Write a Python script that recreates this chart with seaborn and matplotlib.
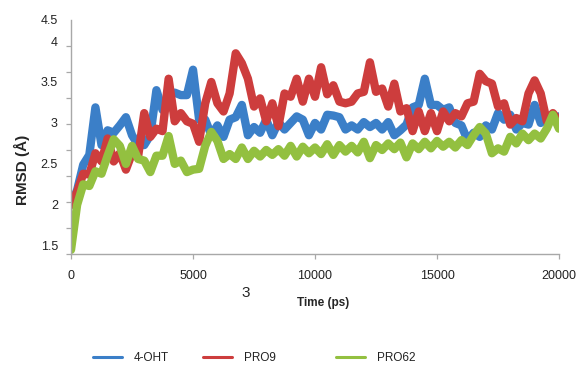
import numpy as np
import pandas as pd
import matplotlib
matplotlib.use("Agg")
import matplotlib.pyplot as plt
import seaborn as sns

# tempo da simulação (ps), um ponto a cada 250 ps
time_ps = list(range(0, 20001, 250))

# RMSD (Å)
rmsd_4oht = [2.00, 2.18, 2.49, 2.61, 3.19, 2.73, 2.91, 2.88, 2.97, 3.07,
             2.85, 2.73, 2.73, 2.85, 3.40, 3.16, 3.34, 3.37, 3.34, 3.34,
             3.65, 3.04, 3.04, 2.85, 2.97, 2.83, 3.04, 3.07, 3.22, 2.85,
             2.95, 2.88, 3.04, 2.85, 3.01, 2.92, 3.00, 3.08, 3.04, 2.85,
             3.00, 2.92, 3.10, 3.09, 3.07, 2.92, 2.97, 2.92, 3.01, 2.95,
             3.00, 2.92, 3.01, 2.85, 2.91, 2.98, 3.19, 3.22, 3.54, 3.22,
             3.22, 3.16, 3.19, 3.00, 2.97, 2.79, 2.88, 2.83, 2.97, 2.92,
             3.12, 3.04, 3.10, 2.92, 3.00, 2.98, 3.22, 3.00, 3.07, 3.04,
             3.08]
rmsd_pro9 = [2.00, 2.16, 2.38, 2.37, 2.63, 2.53, 2.81, 2.53, 2.63, 2.43,
             2.63, 2.59, 3.12, 2.83, 2.93, 2.90, 3.54, 3.02, 3.12, 3.02,
             2.99, 2.77, 3.24, 3.50, 3.24, 3.14, 3.36, 3.85, 3.73, 3.54,
             3.20, 3.30, 3.02, 3.24, 2.96, 3.36, 3.32, 3.54, 3.26, 3.54,
             3.32, 3.68, 3.35, 3.46, 3.26, 3.24, 3.26, 3.36, 3.38, 3.74,
             3.38, 3.42, 3.20, 3.48, 3.14, 3.18, 2.90, 3.14, 2.90, 3.12,
             2.90, 3.14, 3.02, 3.12, 3.08, 3.24, 3.26, 3.60, 3.51, 3.48,
             3.20, 3.24, 2.98, 3.06, 3.02, 3.36, 3.52, 3.36, 3.02, 3.12,
             3.02]
rmsd_pro62 = [1.45, 2.00, 2.25, 2.23, 2.41, 2.38, 2.60, 2.80, 2.72, 2.50,
              2.72, 2.56, 2.54, 2.40, 2.60, 2.60, 2.84, 2.50, 2.54, 2.40,
              2.43, 2.44, 2.72, 2.89, 2.78, 2.56, 2.62, 2.56, 2.70, 2.56,
              2.66, 2.59, 2.67, 2.61, 2.68, 2.60, 2.72, 2.59, 2.71, 2.63,
              2.70, 2.62, 2.74, 2.61, 2.73, 2.65, 2.72, 2.64, 2.77, 2.57,
              2.73, 2.67, 2.75, 2.68, 2.76, 2.58, 2.75, 2.68, 2.77, 2.69,
              2.78, 2.71, 2.77, 2.70, 2.79, 2.73, 2.85, 2.95, 2.87, 2.63,
              2.69, 2.65, 2.83, 2.75, 2.87, 2.79, 2.87, 2.81, 2.93, 3.10,
              2.93]

series_names = ["4-OHT", "PRO9", "PRO62"]
series_colors = ["#3b7fc8", "#cd3d3d", "#93c040"]

# rótulos do eixo y como aparecem na figura
ytick_pos = [1.5, 2.0, 2.5, 3.0, 3.5, 4.0, 4.257]
ytick_lab = ["1.5", "2", "2.5", "3", "3.5", "4", "4.5"]
xtick_pos = [0, 5000, 10000, 15000, 20000]

df = pd.DataFrame({
    "Time": time_ps * 3,
    "RMSD": rmsd_4oht + rmsd_pro9 + rmsd_pro62,
    "Sistema": [n for n in series_names for _ in time_ps],
})

sns.set_style("white")
plt.rcParams["font.family"] = ["Liberation Sans", "DejaVu Sans"]

fig = plt.figure(figsize=(5.76, 3.69), dpi=100)
ax = fig.add_axes([0.1233, 0.3117, 0.8472, 0.6341])

sns.lineplot(data=df, x="Time", y="RMSD", hue="Sistema", hue_order=series_names,
             palette=series_colors, linewidth=6, ax=ax, legend=False, sort=False,
             solid_joinstyle="round")

ax.set_xlim(0, 20000)
ax.set_ylim(1.40, 4.257)
ax.set_xticks(xtick_pos)
ax.set_xticklabels([str(v) for v in xtick_pos])
ax.set_yticks(ytick_pos)
ax.set_yticklabels(ytick_lab)
ax.set_yticks(np.linspace(1.40, 4.257, 10), minor=True)

gray = "#a8a8a8"
for s in ["top", "right"]:
    ax.spines[s].set_visible(False)
for s in ["left", "bottom"]:
    ax.spines[s].set_color(gray)
    ax.spines[s].set_linewidth(1.0)
    ax.spines[s].set_zorder(5)

ax.tick_params(axis="y", which="major", length=0, pad=9.5, labelsize=9,
               labelcolor="#222222")
ax.tick_params(axis="y", which="minor", length=3.5, width=0.9, color=gray, left=True)
ax.tick_params(axis="x", which="major", length=3.5, width=0.9, color=gray,
               bottom=True, pad=8, labelsize=9, labelcolor="#222222")

ax.set_xlabel("")
ax.set_ylabel("RMSD (Å)", fontsize=11, fontweight="bold")
ax.yaxis.set_label_coords(-0.084, 0.36)

fig.text(323 / 576, 1 - 303 / 369, "Time (ps)", fontsize=8.5, fontweight="bold",
         ha="center", va="center")
fig.text(246 / 576, 1 - 293 / 369, "3", fontsize=11, ha="center", va="center")

# legenda: uma entrada de cada vez, nas posições da figura original
legend_left = [93, 203, 336]
for name, color, xl in zip(series_names, series_colors, legend_left):
    h = plt.Line2D([], [], color=color, linewidth=2.2)
    leg = fig.legend([h], [name], loc="center left",
                     bbox_to_anchor=(xl / 576, 1 - 358 / 369), frameon=False,
                     fontsize=8.5, handlelength=2.45, handletextpad=1.0,
                     borderaxespad=0, borderpad=0)
    for t in leg.get_texts():
        t.set_color("#222222")

fig.savefig("out.png", dpi=100)
